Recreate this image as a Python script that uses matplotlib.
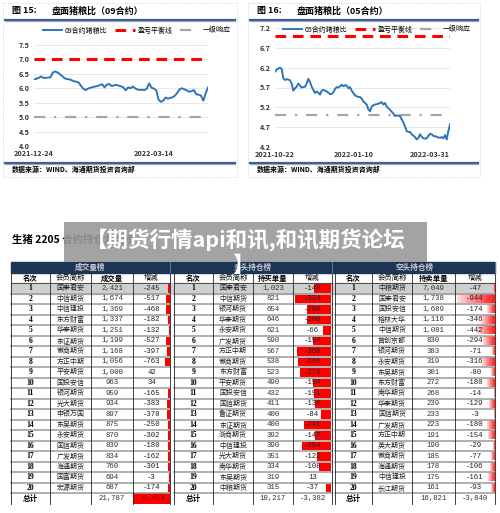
import numpy as np
import matplotlib.pyplot as plt
from matplotlib.patches import Rectangle
from matplotlib.colors import LinearSegmentedColormap

plt.rcParams['font.family'] = ['Noto Sans CJK SC', 'DejaVu Sans']

# 图15: 盘面猪粮比 (09合约)
ratio09 = [6.31, 6.33, 6.36, 6.41, 6.36, 6.36, 6.37, 6.38, 6.55, 6.58,
           6.55, 6.49, 6.42, 6.35, 6.32, 6.31, 6.28, 6.24, 6.23, 6.20,
           6.08, 5.98, 5.94, 5.99, 6.02, 6.04, 6.06, 6.08, 6.11, 6.14,
           6.03, 6.13, 6.15, 6.08, 6.10, 6.12, 6.09, 6.07, 6.03, 5.93,
           6.03, 6.00, 6.06, 6.00, 5.96, 5.94, 5.95, 5.94, 5.99, 6.17,
           6.02, 5.99, 5.93, 5.60, 5.53, 5.58, 5.68, 5.64, 5.67, 5.69,
           5.75, 5.85, 5.97, 6.00, 5.96, 5.93, 5.88, 5.90, 5.94, 5.79,
           5.78, 5.75, 5.57, 5.82, 6.03]
ticks09 = [0, 51]
labels09 = ['2021-12-24', '2022-03-14']

# 图16: 盘面猪粮比 (05合约)
ratio05 = [6.10, 6.15, 6.18, 6.20, 6.17, 5.93, 5.89, 5.91, 5.90, 5.88,
           5.80, 5.62, 5.68, 5.72, 5.80, 5.75, 5.70, 5.71, 5.72, 5.80,
           5.92, 5.84, 5.72, 5.64, 5.56, 5.60, 5.57, 5.52, 5.62, 5.64,
           5.62, 5.60, 5.57, 5.53, 5.54, 5.58, 5.66, 5.71, 5.70, 5.73,
           5.77, 5.73, 5.76, 5.75, 5.68, 5.71, 5.62, 5.56, 5.50, 5.48,
           5.46, 5.46, 5.42, 5.35, 5.31, 5.27, 5.15, 5.10, 5.22, 5.25,
           5.27, 5.28, 5.29, 5.31, 5.33, 5.27, 5.31, 5.22, 5.18, 5.14,
           5.09, 5.04, 4.98, 5.00, 4.99, 4.98, 4.90, 4.82, 4.72, 4.60,
           4.58, 4.58, 4.52, 4.49, 4.45, 4.39, 4.43, 4.52, 4.46, 4.42,
           4.41, 4.42, 4.48, 4.53, 4.52, 4.48, 4.47, 4.46, 4.44, 4.43,
           4.45, 4.42, 4.50, 4.39, 4.60, 4.77]
ticks05 = [0, 47, 93]
labels05 = ['2021-10-22', '2022-01-10', '2022-03-31']

breakeven = 7.0
alert = 5.0

# 生猪2205合约 持仓龙虎榜
vol_names = ['国泰君安', '中信期货', '中信建投', '东方财富', '华泰期货', '东证期货', '徽商期货',
             '方正中期', '平安期货', '国投安信', '银河期货', '光大期货', '申银万国', '东吴期货',
             '永安期货', '国信期货', '广发期货', '海通期货', '国富期货', '宏源期货']
vol_values = [2421, 1674, 1369, 1337, 1251, 1199, 1168, 1056, 1000, 963,
              959, 934, 897, 875, 870, 839, 834, 760, 694, 687]
vol_change = [-245, -517, -468, -182, -132, -527, -397, -763, 42, 34,
              -165, -383, -378, -250, -302, -180, -162, -301, -3, -174]

long_names = ['国泰君安', '中信期货', '银河期货', '华泰期货', '永安期货', '广发期货', '方正中期',
              '徽商期货', '东方财富', '平安期货', '国投安信', '国信期货', '鲁证期货', '东证期货',
              '浙商期货', '中信建投', '光大期货', '南华期货', '东吴期货', '中粮期货']
long_values = [1023, 821, 654, 646, 621, 590, 567, 538, 523, 490,
               432, 411, 400, 400, 392, 390, 351, 334, 319, 315]
long_change = [-148, -324, -208, -208, -66, -154, -300, -291, -271, -154,
               -151, -136, -84, -241, -143, -254, -122, -108, 13, -37]

short_names = ['中粮期货', '国泰君安', '国投安信', '格林大华', '中信期货', '首创京都', '银河期货',
               '永安期货', '东吴期货', '东方财富', '南华期货', '华泰期货', '国信期货', '广发期货',
               '方正中期', '英大期货', '徽商期货', '海通期货', '中信建投', '长江期货']
short_values = [7049, 1738, 1689, 1116, 1081, 830, 383, 319, 301, 272,
                268, 239, 233, 223, 191, 190, 185, 178, 175, 161]
short_change = [-47, -944, -174, -346, -442, -294, -71, -316, -80, -180,
                -14, -129, -3, -180, -154, -29, -77, -106, -161, -93]

totals = [('21,787', '-5,453'), ('10,217', '-3,382'), ('16,821', '-3,840')]

BLUE = '#2e75b6'
NAVY = '#1d3557'
FRAME = '#3b5e9c'

fig = plt.figure(figsize=(5, 5.13), dpi=100)
bg = fig.add_axes([0, 0, 1, 1])
bg.set_xlim(0, 500)
bg.set_ylim(513, 0)
bg.axis('off')


def panel(x0, x1, fig_no, title, note):
    bg.add_patch(Rectangle((x0 - 2, 3), x1 - x0 + 4, 174, fill=False, ec='#c8c8c8',
                           ls=':', lw=0.6))
    bg.text(x0 + 7, 11, fig_no, fontsize=6.5, fontweight='bold', va='center')
    bg.text(x0 + 47, 11, title, fontsize=6.5, fontweight='bold', va='center')
    for yy in (20, 163):
        bg.plot([x0, x1], [yy + 1, yy + 1], color='#b0b0b0', lw=1.0)
        bg.plot([x0, x1], [yy, yy], color=FRAME, lw=1.6)
    bg.text(x0 + 7, 169, note, fontsize=5, fontweight='bold', va='center')


panel(5, 235, '图 15:', '盘面猪粮比（09合约）', '数据来源：WIND、海通期货投资咨询部')
panel(250, 478, '图 16:', '盘面猪粮比（05合约）', '数据来源：WIND、海通期货投资咨询部')


def ratio_chart(rect, series, yticks, ticks, labels, name, leg_xy):
    ax = fig.add_axes(rect)
    x = np.arange(len(series))
    ax.plot(x, series, color=BLUE, lw=1.4, label=name, zorder=3)
    ax.axhline(breakeven, color='#ff0000', lw=2.2, ls=(0, (3.5, 2.2)), label='盈亏平衡线')
    ax.axhline(alert, color='#a6a6a6', lw=1.6, ls=(0, (5, 4, 1, 4)), label='一级响应')
    ax.set_xlim(0, len(series) - 1)
    ax.set_ylim(yticks[0], yticks[-1])
    ax.set_yticks(yticks)
    ax.set_yticklabels([f'{v:.1f}' for v in yticks])
    ax.set_xticks(ticks)
    ax.set_xticklabels(labels)
    ax.grid(axis='y', color='#e4e4e4', lw=0.6)
    ax.set_axisbelow(True)
    for s in ax.spines.values():
        s.set_visible(False)
    ax.tick_params(length=0, labelsize=5.2, colors='#333333', pad=3)
    for t in ax.get_xticklabels() + ax.get_yticklabels():
        t.set_fontweight('bold')
    ax.legend(loc='center', bbox_to_anchor=leg_xy, ncol=3, frameon=False, fontsize=5,
              handlelength=2.8, columnspacing=1.1, handletextpad=0.4)
    ax.patch.set_alpha(0)
    return ax


ratio_chart([34 / 500, (513 - 146) / 513, 174 / 500, 101 / 513], ratio09,
            [4.0, 4.5, 5.0, 5.5, 6.0, 6.5, 7.0, 7.5], ticks09, labels09,
            '09合约猪粮比', (0.59, 1.14))
ratio_chart([275 / 500, (513 - 147) / 513, 175 / 500, 119 / 513], ratio05,
            [4.2, 4.7, 5.2, 5.7, 6.2, 6.7, 7.2], ticks05, labels05,
            '05合约猪粮比', (0.58, 0.985))

# ---- table ----
TOP = 262
HEAD = 273
ROW0 = 283
RH = 10.5
grad = LinearSegmentedColormap.from_list('grad', ['#ffe0e0', '#ff1a1a'])

bg.text(12, 240, '生猪 2205 合约持仓龙虎榜', fontsize=7.5, fontweight='bold', va='center')
bg.add_patch(Rectangle((11, TOP), 484, HEAD - TOP, color=NAVY, zorder=1))
bg.add_patch(Rectangle((11, ROW0), 484, RH, color='#cfcfcf', zorder=0))


def table(edges, title, col3, names, values, changes, total, bar):
    x0, x4 = edges[0], edges[-1]
    bottom = ROW0 + 21 * RH
    bg.text((x0 + x4) / 2, (TOP + HEAD) / 2, title, color='#d0d0d0', fontsize=5.5,
            fontweight='bold', ha='center', va='center', zorder=2)
    cx = [(edges[j] + edges[j + 1]) / 2 for j in range(4)]
    for j, h in enumerate(['名次', '会员简称', col3, '增减']):
        bg.text(cx[j], (HEAD + ROW0) / 2, h, fontsize=5.3, ha='center', va='center',
                fontweight='bold' if j in (0, 2) else 'normal')
    cell = edges[4] - edges[3]
    big = max(abs(c) for c in changes)
    for i in range(20):
        top = ROW0 + i * RH
        yc = top + RH / 2
        c = changes[i]
        if c < 0:
            if bar == 'thin':
                w = abs(c) / big * 5
                bg.add_patch(Rectangle((x4 - w - 0.5, top + 1), w, RH - 2, color='#ff0000', lw=0))
            elif bar == 'solid':
                w = abs(c) / big * (cell - 3)
                bg.add_patch(Rectangle((x4 - w - 1.5, top + 1), w, RH - 2, color='#ff0000', lw=0))
            else:
                w = abs(c) / big * (cell - 2)
                bg.imshow(np.linspace(0, 1, 64).reshape(1, -1), cmap=grad, aspect='auto',
                          extent=(x4 - w - 0.5, x4 - 0.5, top + RH - 1, top + 1), zorder=1)
        bg.text(cx[0], yc, str(i + 1), fontsize=5.5, fontweight='bold',
                family='Liberation Serif', ha='center', va='center', zorder=3)
        bg.text(cx[1], yc, names[i], fontsize=5, color='#222222', ha='center', va='center', zorder=3)
        bg.text(cx[2], yc, f'{values[i]:,}', fontsize=5.3, family='Liberation Mono',
                color='#333333', ha='center', va='center', zorder=3)
        bg.text(cx[3], yc, f'{c:,}', fontsize=5.3, family='Liberation Mono',
                color='#222222', ha='center', va='center', zorder=3)
    ty = ROW0 + 20 * RH + RH / 2
    if bar == 'thin':
        bg.add_patch(Rectangle((edges[3], ROW0 + 20 * RH), cell, RH, color='#ff0000', lw=0))
    bg.text(cx[0], ty, '总计', fontsize=5.5, fontweight='bold', ha='center', va='center')
    bg.text(cx[2], ty, total[0], fontsize=5.3, family='Liberation Mono', color='#333333',
            ha='center', va='center')
    bg.text(cx[3], ty, total[1], fontsize=5.3, family='Liberation Mono',
            color='#8b0000' if bar == 'thin' else '#333333', ha='center', va='center')
    for k in range(21):
        yy = ROW0 + k * RH
        bg.plot([x0, x4], [yy, yy], color='#9a9a9a' if k else '#333333',
                lw=1.1 if k else 0.6, zorder=2)
    for xx in edges:
        bg.plot([xx, xx], [HEAD, bottom], color='#222222', lw=0.6, zorder=2)
    bg.plot([xx, xx], [TOP, HEAD], color='#7f8fa6', lw=0.5, zorder=2)


table([11, 50, 91, 133, 170], '成交量榜', '成交量', vol_names, vol_values, vol_change,
      totals[0], 'thin')
table([174, 213, 253, 293, 332], '多头持仓榜', '持买单量', long_names, long_values,
      long_change, totals[1], 'solid')
table([335, 372, 412, 455, 495], '空头持仓榜', '持卖单量', short_names, short_values,
      short_change, totals[2], 'grad')

# overlay banner (covers the sub-title, as in the source)
bg.add_patch(Rectangle((64, 222), 363, 40, color='#999999', alpha=0.9, lw=0, zorder=5))
bg.text(246, 240, '【期货行情api和讯,和讯期货论坛', color='white', fontsize=15.5,
        fontweight='bold', ha='center', va='center', zorder=6)
bg.text(243, 265, '】', color='white', fontsize=15.5, fontweight='bold',
        ha='center', va='center', zorder=6)

bg.set_xlim(0, 500)
bg.set_ylim(513, 0)
fig.savefig('out.png', dpi=100)
